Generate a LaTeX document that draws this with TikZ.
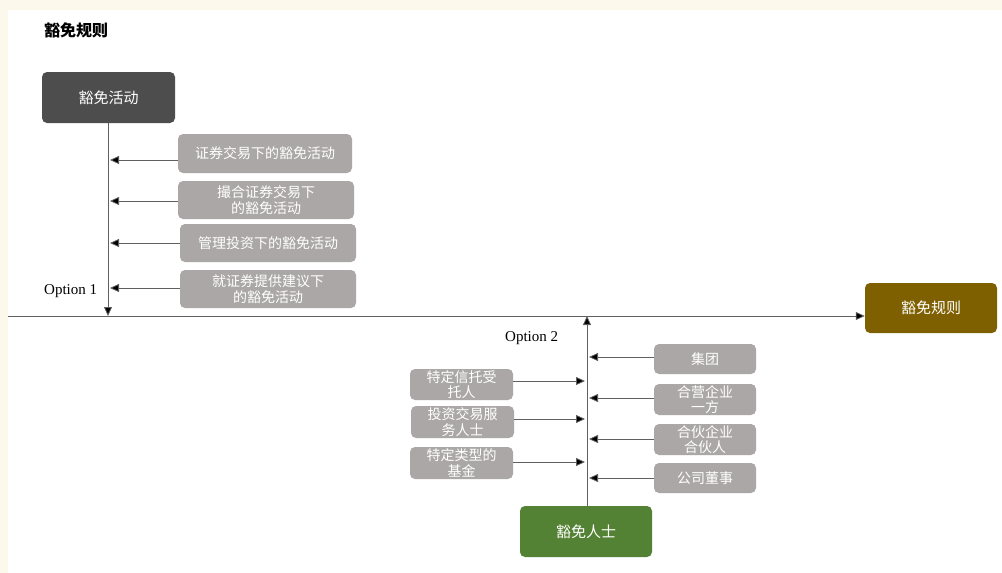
\documentclass[tikz,border=0pt]{standalone}
\usepackage{fontspec}
\setmainfont{Liberation Serif}
\newfontfamily\cjk{Noto Sans CJK SC}
\usetikzlibrary{arrows.meta}
\definecolor{cream}{HTML}{FDF8EC}
\definecolor{boxgray}{HTML}{ABA7A6}
\definecolor{darkbox}{HTML}{4D4D4D}
\definecolor{brownbox}{HTML}{7F6000}
\definecolor{greenbox}{HTML}{548235}
\definecolor{linegray}{HTML}{606060}
\begin{document}
\begin{tikzpicture}[x=1pt,y=-1pt,
  base/.style={rounded corners=5pt, inner sep=0pt, text=white, align=center, font=\cjk\fontsize{14}{15.5}\selectfont},
  graybox/.style={base, fill=boxgray},
  mainbox/.style={base, font=\cjk\fontsize{15}{17}\selectfont},
  conn/.style={draw=linegray, line width=0.8pt, -{Triangle[length=9pt,width=8pt,fill=black]}},
  lbl/.style={font=\fontsize{15}{17}\selectfont, anchor=west, inner sep=0pt}
]
% page background
\fill[cream] (0,0) rectangle (1002,573);
\fill[white] (8,10) rectangle (1002,573);
\useasboundingbox (0,0) rectangle (1002,573);

% title
\node[anchor=west, inner sep=0pt, font=\cjk\bfseries\fontsize{16}{18}\selectfont] (title) at (44,30) {豁免规则};

% main boxes
\node[mainbox, fill=darkbox, minimum width=133pt, minimum height=51pt] (act) at (108.5,97.5) {豁免活动};
\node[mainbox, fill=brownbox, minimum width=132pt, minimum height=50pt] (rule) at (931,308) {豁免规则};
\node[mainbox, fill=greenbox, minimum width=132pt, minimum height=51pt] (ppl) at (586,531.5) {豁免人士};

% horizontal axis
\coordinate (hstart) at (8,316);
\coordinate (hend) at (865,316);
\draw[conn] (hstart) -- (rule.west |- hend);

% option 1 spine
\coordinate (v1end) at (108,316);
\draw[conn] (act.south -| v1end) -- (v1end);
\node[lbl] (opt1) at (44,291) {Option 1};

% option 1 activity boxes
\node[graybox, minimum width=174pt, minimum height=39pt] (a1) at (265,153.5) {证券交易下的豁免活动};
\node[graybox, minimum width=176pt, minimum height=38pt] (a2) at (266,200) {撮合证券交易下\\的豁免活动};
\node[graybox, minimum width=176pt, minimum height=38pt] (a3) at (268,243) {管理投资下的豁免活动};
\node[graybox, minimum width=176pt, minimum height=38pt] (a4) at (268,289) {就证券提供建议下\\的豁免活动};
\foreach \b/\y in {a1/160,a2/201,a3/243,a4/288}{
  \coordinate (t\b) at (110,\y);
  \draw[conn] (\b.west |- t\b) -- (t\b);
}

% option 2 spine
\coordinate (v2end) at (587,316);
\draw[conn] (ppl.north -| v2end) -- (v2end);
\node[lbl] (opt2) at (505,338) {Option 2};

% option 2 left boxes
\node[graybox, minimum width=103pt, minimum height=31pt] (l1) at (461.5,384.5) {特定信托受\\托人};
\node[graybox, minimum width=103pt, minimum height=32pt] (l2) at (462.5,422) {投资交易服\\务人士};
\node[graybox, minimum width=103pt, minimum height=32pt] (l3) at (461.5,463) {特定类型的\\基金};
\foreach \b/\y in {l1/381,l2/419,l3/462}{
  \coordinate (t\b) at (585,\y);
  \draw[conn] (\b.east |- t\b) -- (t\b);
}

% option 2 right boxes
\node[graybox, minimum width=102pt, minimum height=30pt] (r1) at (705,359) {集团};
\node[graybox, minimum width=102pt, minimum height=31pt] (r2) at (705,399.5) {合营企业\\一方};
\node[graybox, minimum width=102pt, minimum height=31pt] (r3) at (705,439.5) {合伙企业\\合伙人};
\node[graybox, minimum width=102pt, minimum height=30pt] (r4) at (705,478) {公司董事};
\foreach \b/\y in {r1/357,r2/398,r3/439,r4/478}{
  \coordinate (t\b) at (589,\y);
  \draw[conn] (\b.west |- t\b) -- (t\b);
}
\end{tikzpicture}
\end{document}
